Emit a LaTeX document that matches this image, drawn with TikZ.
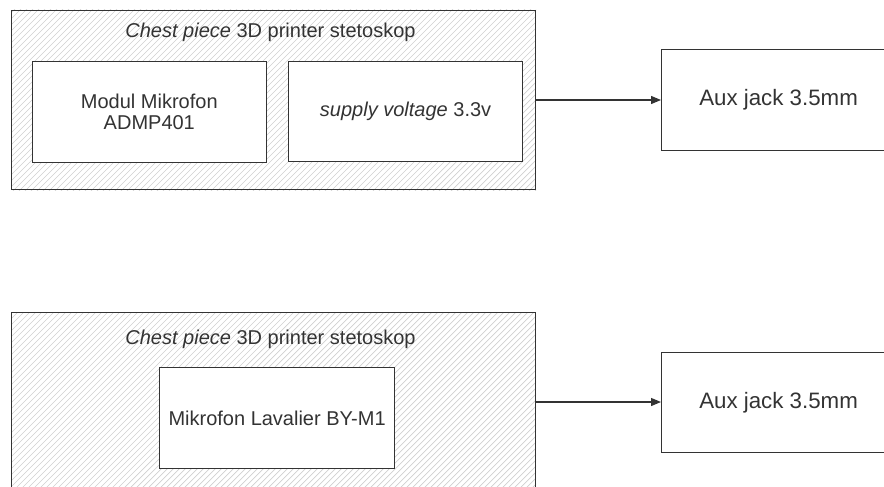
\documentclass[tikz,border=0pt]{standalone}
\usepackage{fontspec}
\setmainfont{Liberation Sans}
\usetikzlibrary{arrows.meta}
\definecolor{ink}{HTML}{333333}
\definecolor{hatchc}{HTML}{D0D0D0}
\begin{document}
\begin{tikzpicture}[x=1pt,y=-1pt,
  txt/.style={font=\fontsize{20}{21.7}\selectfont, text=ink},
  bigtxt/.style={font=\fontsize{22.3}{25}\selectfont},
  container/.style={draw=ink, line width=1.2pt, rectangle, anchor=north west, inner sep=0pt},
  box/.style={draw=ink, line width=1.2pt, fill=white, rectangle, anchor=north west, inner sep=0pt, align=center, txt},
  hatch/.style={draw=hatchc, line width=0.7pt},
  link/.style={draw=ink, line width=1.2pt, -{Stealth[length=10pt,width=8pt,inset=0pt]}}
]
\useasboundingbox (0,0) rectangle (884,487);
\clip (0,0) rectangle (884,487);
\fill[white] (0,0) rectangle (884,487);

% ---------- top group ----------
\node[container, minimum width=524pt, minimum height=179pt] (c1) at (11,10) {};
\begin{scope}
  \clip (c1.south west) rectangle (c1.north east);
  \foreach \i in {-200,-194,...,560} \draw[hatch] (\i,200) -- ++(200,-200);
\end{scope}
\node[container, minimum width=524pt, minimum height=179pt] at (11,10) {};
\node[txt] (t1) at (270.5,32.7) {\textit{Chest piece} 3D printer stetoskop};
\node[box, minimum width=234pt, minimum height=101pt] (m1) at (31.7,60.7) {Modul Mikrofon\\ADMP401};
\node[box, minimum width=234pt, minimum height=100.5pt] (s1) at (288,60.7) {\textit{supply voltage} 3.3v};
\node[box, bigtxt, minimum width=234pt, minimum height=101pt] (a1) at (661,49) {Aux jack 3.5mm};
\coordinate (o1) at (535,100);
\draw[link] (o1) -- (a1.west |- o1);

% ---------- bottom group ----------
\node[container, minimum width=524pt, minimum height=220pt] (c2) at (11,312) {};
\begin{scope}
  \clip (c2.south west) rectangle (c2.north east);
  \foreach \i in {-240,-234,...,560} \draw[hatch] (\i,540) -- ++(240,-240);
\end{scope}
\node[container, minimum width=524pt, minimum height=220pt] at (11,312) {};
\node[txt] (t2) at (270.5,339) {\textit{Chest piece} 3D printer stetoskop};
\node[box, minimum width=235pt, minimum height=101pt] (m2) at (159,367) {Mikrofon Lavalier BY-M1};
\node[box, bigtxt, minimum width=234pt, minimum height=100pt] (a2) at (661,352) {Aux jack 3.5mm};
\coordinate (o2) at (535,402);
\draw[link] (o2) -- (a2.west |- o2);
\end{tikzpicture}
\end{document}
